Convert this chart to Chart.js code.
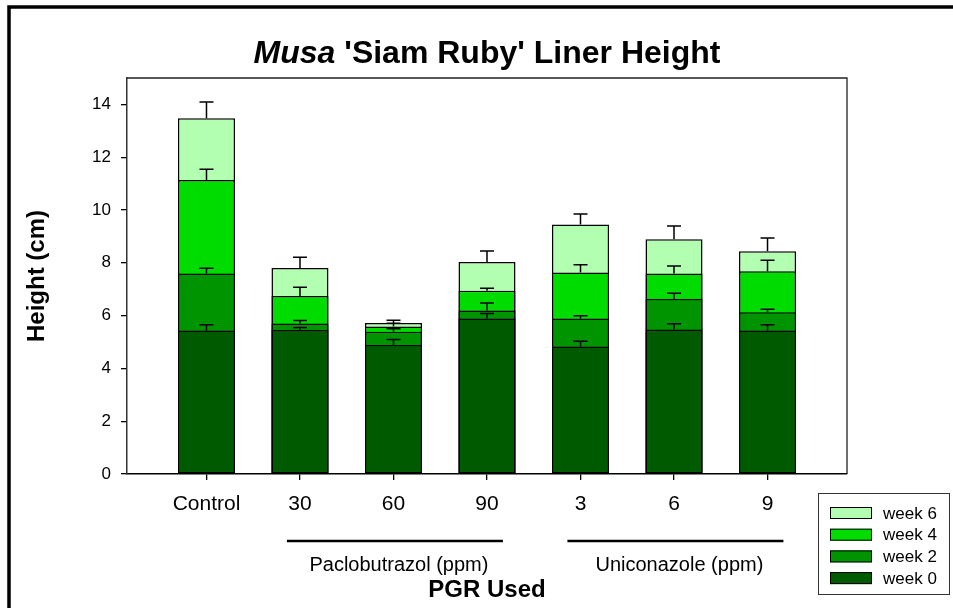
<!DOCTYPE html>
<html>
<head>
<meta charset="utf-8">
<title>Musa 'Siam Ruby' Liner Height</title>
<script src="https://cdn.jsdelivr.net/npm/chart.js@4.4.1/dist/chart.umd.min.js"></script>
<style>
  html, body { margin: 0; padding: 0; background: #fff; }
  canvas { display: block; }
</style>
</head>
<body>
<canvas id="grafico" width="953" height="608"></canvas>
<script>
// Dados

var categories = ['Control', '30', '60', '90', '3', '6', '9'];

var week0 = [5.44, 5.45, 4.89, 5.89, 4.83, 5.47, 5.44];
var week2 = [7.59, 5.70, 5.39, 6.19, 5.89, 6.63, 6.13];
var week4 = [11.14, 6.74, 5.59, 6.94, 7.63, 7.59, 7.68];
var week6 = [13.48, 7.80, 5.72, 8.03, 9.45, 8.89, 8.44];

var err0 = [0.21, 0.10, 0.20, 0.19, 0.20, 0.22, 0.21];
var err2 = [0.20, 0.11, 0.11, 0.29, 0.10, 0.22, 0.11];
var err4 = [0.40, 0.33, 0.12, 0.10, 0.30, 0.29, 0.42];
var err6 = [0.61, 0.41, 0.10, 0.42, 0.40, 0.50, 0.50];

var yTicks = [0, 2, 4, 6, 8, 10, 12, 14];

var groups = [
  { label: 'Paclobutrazol (ppm)', from: 1, to: 3 },
  { label: 'Uniconazole (ppm)', from: 4, to: 6 }
];

var FONT = '"Liberation Sans", Arial, sans-serif';

function points(values) {
  return values.map(function (v, i) { return { x: i, y: v }; });
}

function serie(label, values, errors, color) {
  return {
    label: label,
    data: points(values),
    errors: errors,
    backgroundColor: color,
    borderColor: '#000',
    borderWidth: 1.5,
    borderSkipped: false
  };
}

// week 0 first so it is painted on top of the taller weeks
var datasets = [
  serie('week 0', week0, err0, '#005a00'),
  serie('week 2', week2, err2, '#009400'),
  serie('week 4', week4, err4, '#00dc00'),
  serie('week 6', week6, err6, '#b2ffb2')
];

// Plugin: moldura, barras de erro, títulos e legenda

var decoracao = {
  id: 'decoracao',
  beforeDraw: function (chart) {
    var ctx = chart.ctx;
    ctx.save();
    ctx.fillStyle = '#fff';
    ctx.fillRect(0, 0, chart.width, chart.height);
    ctx.strokeStyle = '#000';
    ctx.lineWidth = 3.5;
    ctx.beginPath();
    ctx.moveTo(9, chart.height + 10);
    ctx.lineTo(9, 7);
    ctx.lineTo(chart.width + 10, 7);
    ctx.stroke();
    ctx.restore();
  },
  afterDatasetsDraw: function (chart) {
    var ctx = chart.ctx;
    var y = chart.scales.y;
    var area = chart.chartArea;
    ctx.save();
    ctx.strokeStyle = '#000';
    ctx.lineWidth = 1.5;
    chart.data.datasets.forEach(function (ds, i) {
      var meta = chart.getDatasetMeta(i);
      meta.data.forEach(function (bar, j) {
        var v = ds.data[j].y;
        var top = y.getPixelForValue(v);
        var end = y.getPixelForValue(v + ds.errors[j]);
        ctx.beginPath();
        ctx.moveTo(bar.x, top);
        ctx.lineTo(bar.x, end);
        ctx.moveTo(bar.x - 7, end);
        ctx.lineTo(bar.x + 7, end);
        ctx.stroke();
      });
    });
    // moldura do gráfico (topo e direita)
    ctx.lineWidth = 1.3;
    ctx.strokeStyle = '#222';
    ctx.beginPath();
    ctx.moveTo(area.left, area.top);
    ctx.lineTo(area.right, area.top);
    ctx.lineTo(area.right, area.bottom);
    ctx.stroke();
    ctx.restore();
  },
  afterDraw: function (chart) {
    var ctx = chart.ctx;
    var x = chart.scales.x;
    var area = chart.chartArea;
    var cx = (area.left + area.right) / 2;
    ctx.save();
    ctx.fillStyle = '#000';
    ctx.textBaseline = 'alphabetic';

    // título
    ctx.font = 'italic bold 32px ' + FONT;
    var w1 = ctx.measureText('Musa').width;
    ctx.font = 'bold 32px ' + FONT;
    var resto = " 'Siam Ruby' Liner Height";
    var w2 = ctx.measureText(resto).width;
    var x0 = cx - (w1 + w2) / 2;
    ctx.textAlign = 'left';
    ctx.font = 'italic bold 32px ' + FONT;
    ctx.fillText('Musa', x0, 63);
    ctx.font = 'bold 32px ' + FONT;
    ctx.fillText(resto, x0 + w1, 63);

    // título do eixo y
    ctx.save();
    ctx.translate(44, (area.top + area.bottom) / 2);
    ctx.rotate(-Math.PI / 2);
    ctx.textAlign = 'center';
    ctx.font = 'bold 24px ' + FONT;
    ctx.fillText('Height (cm)', 0, 0);
    ctx.restore();

    // título do eixo x
    ctx.textAlign = 'center';
    ctx.font = 'bold 24px ' + FONT;
    ctx.fillText('PGR Used', cx, 597);

    // grupos
    ctx.font = '20px ' + FONT;
    ctx.lineWidth = 2.5;
    ctx.strokeStyle = '#000';
    groups.forEach(function (g) {
      var a = x.getPixelForValue(g.from - 0.14);
      var b = x.getPixelForValue(g.to + 0.17);
      ctx.beginPath();
      ctx.moveTo(a, 541);
      ctx.lineTo(b, 541);
      ctx.stroke();
      ctx.fillText(g.label, (a + b) / 2 + 4, 571);
    });

    // legenda
    var lx = 818, ly = 493, lw = 131, lh = 101;
    ctx.lineWidth = 1;
    ctx.strokeStyle = '#333';
    ctx.strokeRect(lx + 0.5, ly + 0.5, lw, lh);
    ctx.font = '17px ' + FONT;
    ctx.textAlign = 'left';
    ctx.textBaseline = 'middle';
    var itens = chart.data.datasets.slice().reverse();
    itens.forEach(function (ds, k) {
      var yy = ly + 20 + k * 21.7;
      ctx.fillStyle = ds.backgroundColor;
      ctx.fillRect(lx + 12, yy - 6, 42, 12);
      ctx.lineWidth = 1;
      ctx.strokeStyle = '#000';
      ctx.strokeRect(lx + 12.5, yy - 5.5, 41, 11);
      ctx.fillStyle = '#000';
      ctx.fillText(ds.label, lx + 65, yy + 1);
    });
    ctx.restore();
  }
};

// Gráfico

var config = {
  type: 'bar',
  data: { datasets: datasets },
  options: {
    responsive: false,
    animation: false,
    devicePixelRatio: 1,
    layout: { padding: { top: 78, right: 106, left: 0, bottom: 0 } },
    datasets: {
      bar: { grouped: false, categoryPercentage: 1, barPercentage: 0.61 }
    },
    plugins: {
      legend: { display: false },
      tooltip: { enabled: false },
      title: { display: false }
    },
    scales: {
      x: {
        type: 'linear',
        min: -0.85,
        max: 6.85,
        offset: false,
        afterBuildTicks: function (scale) {
          scale.ticks = categories.map(function (c, i) { return { value: i }; });
        },
        afterFit: function (scale) { scale.height = 134; },
        border: { display: true, color: '#000', width: 1.5 },
        grid: { display: true, offset: false, drawOnChartArea: false, drawTicks: true, tickLength: 6, color: '#000', lineWidth: 1.3 },
        ticks: {
          autoSkip: false,
          maxRotation: 0,
          padding: 12,
          color: '#000',
          font: { family: FONT, size: 21 },
          callback: function (v) { return categories[v]; }
        }
      },
      y: {
        min: 0,
        max: 15,
        afterBuildTicks: function (scale) {
          scale.ticks = yTicks.map(function (t) { return { value: t }; });
        },
        afterFit: function (scale) { scale.width = 127; },
        border: { display: true, color: '#333', width: 1.5 },
        grid: { display: true, drawOnChartArea: false, drawTicks: true, tickLength: 6, color: '#000', lineWidth: 1.3 },
        ticks: {
          padding: 10,
          color: '#000',
          font: { family: FONT, size: 17 }
        }
      }
    }
  },
  plugins: [decoracao]
};

var ctx = document.getElementById('grafico').getContext('2d');
var meuGrafico = new Chart(ctx, config);
</script>
</body>
</html>
